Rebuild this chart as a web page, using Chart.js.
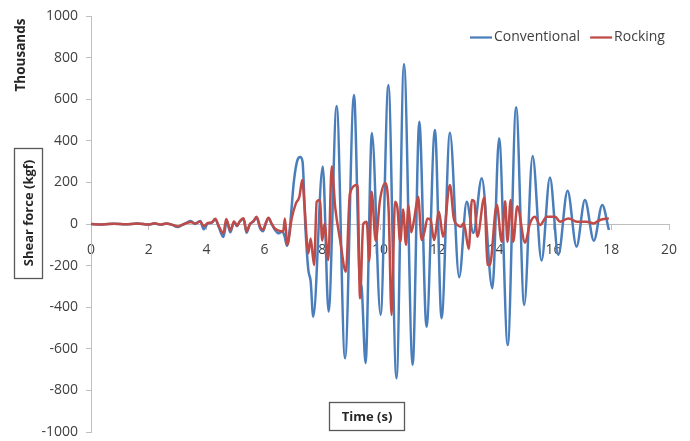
<!DOCTYPE html>
<html>
<head>
<meta charset="UTF-8">
<title>Shear force time history</title>
<script src="https://cdn.jsdelivr.net/npm/chart.js"></script>
<style>
  body { margin: 0; background: #ffffff; }
</style>
</head>
<body>
<canvas id="shearChart" width="690" height="441"></canvas>
<script>
// Shear force (thousands of kgf) against time (s)
const convTime = [0, 0.4, 0.8, 1.2, 1.6, 2.0, 2.2, 2.4, 2.6, 2.8, 3.0, 3.15, 3.3, 3.45, 3.6, 3.78, 3.9, 4.05, 4.18, 4.3,
  4.42, 4.58, 4.7, 4.82, 4.95, 5.05, 5.15, 5.28, 5.38, 5.5, 5.62, 5.73, 5.85, 5.95, 6.05, 6.14, 6.25, 6.35, 6.5, 6.62,
  6.7, 6.78, 6.88, 7.02, 7.15, 7.24, 7.32, 7.42, 7.52, 7.6, 7.69, 8.02, 8.22, 8.5, 8.79, 9.1, 9.3, 9.36, 9.5, 9.72,
  10.02, 10.29, 10.57, 10.83, 11.13, 11.36, 11.61, 11.9, 12.13, 12.42, 12.74, 13.0, 13.23, 13.52, 13.89, 14.12, 14.42,
  14.71, 14.99, 15.28, 15.59, 15.88, 16.17, 16.49, 16.8, 17.09, 17.4, 17.69, 17.92];
const convForce = [0, -2, 1, -1, 2, -3, 3, -4, 2, -4, -15, -5, 5, 15, 0, 14, -25, 3, 6, 22,
  -14, -62, 14, -40, 10, -10, 12, 24, -42, -2, 12, 30, -20, -35, 2, 28, 0, -25, -45, -35,
  -60, -105, -20, 205, 310, 322, 300, -20, -221, -275, -446, 276, -421, 567, -646, 620, -270, -300, -669, 437,
  -437, 668, -742, 769, -678, 492, -494, 452, -453, 439, -256, 107, -43, 220, -309, 412, -582,
  561, -389, 327, -176, 224, -149, 160, -109, 115, -80, 91, -29];

const rockTime = [0, 0.4, 0.8, 1.2, 1.6, 2.0, 2.2, 2.4, 2.6, 2.8, 3.0, 3.15, 3.3, 3.45, 3.6, 3.78, 3.9, 4.05, 4.18, 4.3,
  4.42, 4.58, 4.68, 4.82, 4.95, 5.05, 5.15, 5.28, 5.38, 5.5, 5.62, 5.73, 5.85, 5.95, 6.05, 6.14, 6.25, 6.35, 6.5, 6.65,
  6.71, 6.79, 6.95, 7.09, 7.21, 7.31, 7.39, 7.52, 7.6, 7.72, 7.81, 7.92, 8.0, 8.08, 8.21, 8.33, 8.45, 8.62, 8.82, 8.96,
  9.22, 9.31, 9.42, 9.54, 9.63, 9.71, 9.85, 10.0, 10.18, 10.3, 10.4, 10.52, 10.6, 10.7, 10.8, 10.9, 10.98, 11.08, 11.18,
  11.32, 11.44, 11.55, 11.64, 11.75, 11.87, 12.04, 12.18, 12.42, 12.55, 12.68, 12.8, 12.9, 13.07, 13.18, 13.26, 13.37,
  13.61, 13.72, 13.8, 14.04, 14.21, 14.33, 14.41, 14.52, 14.61, 14.75, 15.02, 15.19, 15.36, 15.54, 15.77, 16.06, 16.23,
  16.52, 16.81, 17.15, 17.38, 17.61, 17.92];
const rockForce = [0, -2, 1, -1, 2, -3, 4, -3, 3, -3, -12, -4, 4, 10, 2, 12, -10, 5, 8, 25,
  -10, -45, 24, -30, 12, -8, 14, 28, -35, 0, 14, 35, -12, -28, 6, 30, 2, -20, -32, -37,
  27, -101, 30, 99, 131, 211, 83, -141, -70, -197, 107, 115, -80, 0, -173, 276, 80, -77, -229, 147,
  187, -357, 0, 11, -178, 155, -80, 115, 196, 63, -437, 107, 80, -85, 70, -100, 90, -40, 20,
  131, -77, -30, 27, 20, -77, 59, -61, 187, 30, -5, -13, 5, -120, 115, 110, -61,
  128, -195, -197, 93, -85, 109, -85, 115, -85, 85, -90, 3, 35, -5, 35, 35, 11,
  27, 11, 11, 3, 19, 27];

const timeTicks = [0, 2, 4, 6, 8, 10, 12, 14, 16, 18, 20];
const forceTicks = [-1000, -800, -600, -400, -200, 0, 200, 400, 600, 800, 1000];

const seriesNames = ['Conventional', 'Rocking'];
const seriesColors = ['#4a7ebb', '#be4b48'];

const fontFamily = '"Open Sans", "DejaVu Sans", sans-serif';
const axisGrey = '#bfbfbf';

function toPoints(xs, ys) {
  return xs.map((x, i) => ({ x: x, y: ys[i] }));
}

// axis captions, boxed titles and the legend row
const captions = {
  id: 'captions',
  afterDraw(chart) {
    const ctx = chart.ctx;
    ctx.save();
    ctx.fillStyle = '#262626';
    ctx.textAlign = 'center';
    ctx.textBaseline = 'middle';

    ctx.font = 'bold 13.5px ' + fontFamily;
    ctx.save();
    ctx.translate(21, 55);
    ctx.rotate(-Math.PI / 2);
    ctx.fillText('Thousands', 0, 0);
    ctx.restore();

    ctx.font = 'bold 13px ' + fontFamily;
    ctx.strokeStyle = '#595959';
    ctx.lineWidth = 1.3;
    ctx.strokeRect(14.5, 148.5, 28, 130);
    ctx.save();
    ctx.translate(29, 213);
    ctx.rotate(-Math.PI / 2);
    ctx.fillText('Shear force (kgf)', 0, 0);
    ctx.restore();

    ctx.strokeRect(329.5, 402.5, 75, 28);
    ctx.fillText('Time (s)', 367, 417);

    // legend
    ctx.font = '14px ' + fontFamily;
    ctx.textAlign = 'left';
    ctx.fillStyle = '#404040';
    let x = 470;
    chart.data.datasets.forEach(ds => {
      ctx.strokeStyle = ds.borderColor;
      ctx.lineWidth = 2.25;
      ctx.beginPath();
      ctx.moveTo(x, 37.5);
      ctx.lineTo(x + 22, 37.5);
      ctx.stroke();
      ctx.fillText(ds.label, x + 24, 37);
      x += 24 + ctx.measureText(ds.label).width + 10;
    });
    ctx.restore();
  }
};

new Chart(document.getElementById('shearChart'), {
  type: 'line',
  data: {
    datasets: [
      {
        label: seriesNames[0],
        data: toPoints(convTime, convForce),
        borderColor: seriesColors[0],
        borderWidth: 2.5,
        pointRadius: 0,
        cubicInterpolationMode: 'monotone',
        order: 1
      },
      {
        label: seriesNames[1],
        data: toPoints(rockTime, rockForce),
        borderColor: seriesColors[1],
        borderWidth: 2.5,
        pointRadius: 0,
        cubicInterpolationMode: 'monotone',
        order: 0
      }
    ]
  },
  options: {
    responsive: false,
    animation: false,
    layout: { padding: { left: 0, right: 21, top: 16, bottom: 9 } },
    plugins: {
      legend: { display: false },
      tooltip: { enabled: false }
    },
    scales: {
      x: {
        type: 'linear',
        position: { y: 0 },
        min: 0,
        max: 20,
        afterBuildTicks: s => { s.ticks = timeTicks.map(v => ({ value: v })); },
        afterFit: s => { s.paddingLeft = 0; s.paddingRight = 0; },
        grid: { drawOnChartArea: false, drawTicks: true, tickLength: 5, color: axisGrey },
        border: { color: axisGrey, width: 1 },
        ticks: {
          color: '#404040',
          font: { family: fontFamily, size: 14 },
          padding: 13,
          maxRotation: 0,
          autoSkip: false,
          callback: v => String(v)
        }
      },
      y: {
        type: 'linear',
        position: 'left',
        min: -1000,
        max: 1000,
        afterBuildTicks: s => { s.ticks = forceTicks.map(v => ({ value: v })); },
        afterFit: s => { s.width = 91; s.paddingTop = 0; s.paddingBottom = 0; },
        grid: { drawOnChartArea: false, drawTicks: true, tickLength: 5, color: axisGrey },
        border: { color: axisGrey, width: 1 },
        ticks: {
          color: '#404040',
          font: { family: fontFamily, size: 14 },
          padding: 8,
          autoSkip: false,
          callback: v => String(v)
        }
      }
    }
  },
  plugins: [captions]
});
</script>
</body>
</html>
